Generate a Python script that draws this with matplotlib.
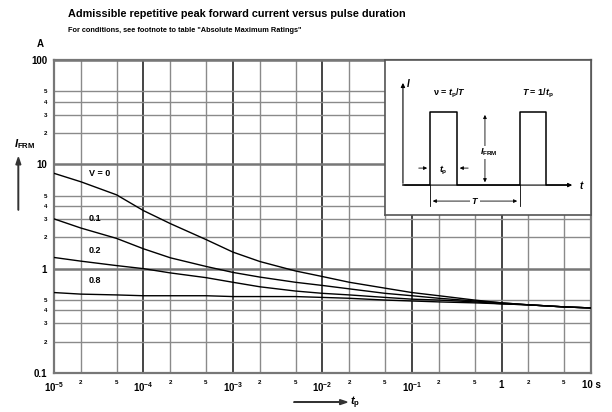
import numpy as np
import matplotlib
matplotlib.use("Agg")
import matplotlib.pyplot as plt
from matplotlib.ticker import FixedLocator

plt.rcParams['font.family'] = ['Liberation Sans', 'DejaVu Sans']
plt.rcParams['font.weight'] = 'bold'
plt.rcParams['mathtext.fontset'] = 'custom'
plt.rcParams['mathtext.rm'] = 'Liberation Sans:bold'
plt.rcParams['mathtext.bf'] = 'Liberation Sans:bold'
plt.rcParams['mathtext.it'] = 'Liberation Sans:bold:italic'
plt.rcParams['mathtext.default'] = 'bf'

# pulse duration (s)
tp = [1e-5, 2e-5, 5e-5, 1e-4, 2e-4, 5e-4, 1e-3, 2e-3, 5e-3, 1e-2,
      2e-2, 5e-2, 1e-1, 2e-1, 5e-1, 1, 2, 5, 10]

# admissible repetitive peak forward current (A) for each duty cycle v
i_v0 = [8.2, 6.8, 5.1, 3.6, 2.7, 1.9, 1.44, 1.17, 0.95, 0.84,
        0.74, 0.65, 0.59, 0.55, 0.50, 0.47, 0.45, 0.43, 0.42]
i_v01 = [3.0, 2.45, 1.95, 1.55, 1.27, 1.05, 0.92, 0.83, 0.74, 0.69,
         0.64, 0.58, 0.55, 0.52, 0.49, 0.47, 0.45, 0.43, 0.42]
i_v02 = [1.28, 1.18, 1.07, 1.0, 0.91, 0.82, 0.74, 0.67, 0.61, 0.58,
         0.56, 0.53, 0.51, 0.50, 0.48, 0.46, 0.45, 0.43, 0.42]
i_v08 = [0.59, 0.57, 0.56, 0.55, 0.55, 0.55, 0.54, 0.54, 0.54, 0.53,
         0.52, 0.50, 0.49, 0.48, 0.47, 0.46, 0.45, 0.43, 0.42]

curves = [i_v0, i_v01, i_v02, i_v08]
curve_labels = ['V = 0', '0.1', '0.2', '0.8']
label_pos = [(3.2e-5, 7.4), (2.9e-5, 2.75), (2.9e-5, 1.36), (2.9e-5, 0.70)]

x_major = [1e-5, 1e-4, 1e-3, 1e-2, 1e-1, 1, 10]
x_major_labels = ['$10^{-5}$', '$10^{-4}$', '$10^{-3}$', '$10^{-2}$',
                  '$10^{-1}$', '1', '10 s']
y_major = [0.1, 1, 10, 100]
y_major_labels = ['0.1', '1', '10', '100']

fig = plt.figure(figsize=(6.12, 4.12), dpi=100)
ax = fig.add_axes([0.0882, 0.0947, 0.8775, 0.7597])
ax.set_xscale('log')
ax.set_yscale('log')
ax.set_xlim(1e-5, 10)
ax.set_ylim(0.1, 100)

# grid
x_minor = [m * d for d in x_major[:-1] for m in (2, 5)]
y_minor = [m * d for d in y_major[:-1] for m in (2, 3, 4, 5)]
for x in x_minor:
    ax.axvline(x, color='#8a8a8a', lw=1.0, zorder=1)
for x in x_major:
    ax.axvline(x, color='#444444', lw=1.4, zorder=1)
for y in y_minor:
    ax.axhline(y, color='#8a8a8a', lw=1.0, zorder=1)
for y in y_major:
    ax.axhline(y, color='#777777', lw=1.8, zorder=1)

for vals in curves:
    ax.plot(tp, vals, color='black', lw=1.0, zorder=3)
for lab, (lx, ly) in zip(curve_labels, label_pos):
    ax.text(lx, ly, lab, fontsize=6.5, ha='center', va='bottom', zorder=4)

ax.xaxis.set_major_locator(FixedLocator(x_major))
ax.set_xticklabels(x_major_labels, fontsize=7)
ax.xaxis.set_minor_locator(FixedLocator(x_minor))
ax.set_xticklabels(['2', '5'] * 6, minor=True, fontsize=4.5)
ax.yaxis.set_major_locator(FixedLocator(y_major))
ax.set_yticklabels(y_major_labels, fontsize=7)
ax.yaxis.set_minor_locator(FixedLocator(y_minor))
ax.set_yticklabels(['2', '3', '4', '5'] * 3, minor=True, fontsize=4.5)
ax.tick_params(which='both', length=0, pad=5)
for s in ax.spines.values():
    s.set_color('#777777')
    s.set_linewidth(1.6)

# titles and axis labels
fig.text(0.111, 0.966, 'Admissible repetitive peak forward current versus pulse duration',
         fontsize=7.8, ha='left', va='center')
fig.text(0.111, 0.927, 'For conditions, see footnote to table "Absolute Maximum Ratings"',
         fontsize=5.3, ha='left', va='center')
fig.text(0.065, 0.893, 'A', fontsize=7, ha='center', va='center')
fig.text(0.040, 0.650, '$\\mathit{I}_{FRM}$', fontsize=8, ha='center', va='center')
fig.patches.append(matplotlib.patches.FancyArrow(
    0.030, 0.49, 0.0, 0.11, width=0.0008, head_width=0.008, head_length=0.018,
    color='#333333', transform=fig.transFigure, figure=fig))
fig.patches.append(matplotlib.patches.FancyArrow(
    0.48, 0.024, 0.075, 0.0, width=0.001, head_width=0.012, head_length=0.012,
    color='#333333', transform=fig.transFigure, figure=fig))
fig.text(0.572, 0.022, '$\\mathit{t}_p$', fontsize=8, ha='left', va='center')

# pulse schematic inset
ins = fig.add_axes([0.629, 0.478, 0.3366, 0.376])
ins.set_xlim(0, 206)
ins.set_ylim(155, 0)
ins.set_xticks([])
ins.set_yticks([])
ins.set_facecolor('white')
for s in ins.spines.values():
    s.set_color('#555555')
    s.set_linewidth(1.2)
ins.set_zorder(5)

arr = dict(arrowstyle='-|>', color='black', lw=0.8, mutation_scale=6)
ins.annotate('', xy=(18, 20), xytext=(18, 126), arrowprops=arr)
ins.annotate('', xy=(190, 125), xytext=(17, 125), arrowprops=arr)
ins.text(21, 23, '$\\mathit{I}$', fontsize=7, ha='left', va='center')
ins.text(194, 125, '$\\mathit{t}$', fontsize=7, ha='left', va='center')
ins.plot([18, 45, 45, 72, 72, 135, 135, 161, 161, 185],
         [125, 125, 52, 52, 125, 125, 52, 52, 125, 125],
         color='black', lw=1.1)
ins.text(65, 33, '$\\nu$ = $\\mathit{t}_p$/$\\mathit{T}$', fontsize=6.5,
         ha='center', va='center')
ins.text(153, 33, '$\\mathit{T}$ = 1/$\\mathit{t}_p$', fontsize=6.5,
         ha='center', va='center')
dim = dict(arrowstyle='<|-|>', color='black', lw=0.6, mutation_scale=5)
ins.annotate('', xy=(100, 52), xytext=(100, 125), arrowprops=dim)
ins.text(104, 92, '$\\mathit{I}_{FRM}$', fontsize=6.5, ha='center', va='center',
         bbox=dict(fc='white', ec='none', pad=0.5))
one = dict(arrowstyle='-|>', color='black', lw=0.6, mutation_scale=5)
ins.annotate('', xy=(45, 108), xytext=(31, 108), arrowprops=one)
ins.annotate('', xy=(72, 108), xytext=(86, 108), arrowprops=one)
ins.text(58.5, 110, '$\\mathit{t}_p$', fontsize=6.5, ha='center', va='center')
ins.plot([45, 45], [125, 146], color='black', lw=0.6)
ins.plot([135, 135], [125, 146], color='black', lw=0.6)
ins.annotate('', xy=(45, 141), xytext=(135, 141), arrowprops=dim)
ins.text(90, 141, '$\\mathit{T}$', fontsize=6.5, ha='center', va='center',
         bbox=dict(fc='white', ec='none', pad=0.5))

fig.savefig('out.png', dpi=100)
